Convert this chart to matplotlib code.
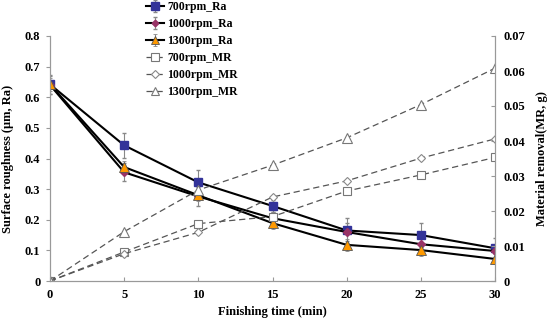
import matplotlib
matplotlib.use("Agg")
import matplotlib.pyplot as plt
from matplotlib.ticker import FuncFormatter

time = [0, 5, 10, 15, 20, 25, 30]
ra_700 = [0.642, 0.443, 0.322, 0.245, 0.165, 0.150, 0.107]
ra_1000 = [0.640, 0.355, 0.276, 0.205, 0.160, 0.120, 0.098]
ra_1300 = [0.642, 0.372, 0.280, 0.189, 0.118, 0.101, 0.072]
err_700 = [0.030, 0.040, 0.040, 0.020, 0.040, 0.040, 0.035]
err_1000 = [0.030, 0.030, 0.030, 0.020, 0.030, 0.020, 0.020]
err_1300 = [0.020, 0.020, 0.020, 0.020, 0.020, 0.020, 0.015]
mr_700 = [0.0, 0.0083, 0.0164, 0.0184, 0.0257, 0.0303, 0.0353]
mr_1000 = [0.0, 0.0078, 0.0139, 0.0240, 0.0286, 0.0351, 0.0406]
mr_1300 = [0.0, 0.0141, 0.0260, 0.0331, 0.0409, 0.0504, 0.0608]

plt.rcParams['font.family'] = ['Liberation Serif', 'DejaVu Serif']
plt.rcParams['font.weight'] = 'bold'

fig = plt.figure(figsize=(5.5, 3.2), dpi=100)
ax = fig.add_axes([50/550, 1-281/320, 445/550, 245/320])
ax2 = ax.twinx()

spine_c = '#999999'
ecol = '#888888'
h1 = ax.errorbar(time, ra_700, yerr=err_700, color='black', lw=1.5, marker='s', ms=6,
                 mfc='#333399', mec='#333399', ecolor=ecol, elinewidth=0.8, capsize=1.5,
                 label='700rpm_Ra')
h2 = ax.errorbar(time, ra_1000, yerr=err_1000, color='black', lw=1.5, marker='D', ms=4,
                 mfc='#993366', mec='#993366', ecolor=ecol, elinewidth=0.8, capsize=1.5,
                 label='1000rpm_Ra')
h3 = ax.errorbar(time, ra_1300, yerr=err_1300, color='black', lw=1.5, marker='^', ms=6.5,
                 mfc='#FF9900', mec='#555555', mew=0.6, ecolor=ecol, elinewidth=0.8, capsize=1.5,
                 label='1300rpm_Ra')

dash_c = '#555555'
m1, = ax2.plot(time, mr_700, ls=(0, (5, 3)), color=dash_c, lw=0.9, marker='s', ms=6,
               mfc='white', mec='#777777', mew=0.8, label='700rpm_MR')
m2, = ax2.plot(time, mr_1000, ls=(0, (5, 3)), color=dash_c, lw=0.9, marker='D', ms=4.5,
               mfc='white', mec='#888888', mew=0.8, label='1000rpm_MR')
m3, = ax2.plot(time, mr_1300, ls=(0, (5, 3)), color=dash_c, lw=0.9, marker='^', ms=6.5,
               mfc='white', mec='#777777', mew=0.8, label='1300rpm_MR')

ax.set_xlim(0, 30)
ax.set_ylim(0, 0.8)
ax2.set_ylim(0, 0.07)
ax.set_xticks(time)
ax.set_yticks([0, 0.1, 0.2, 0.3, 0.4, 0.5, 0.6, 0.7, 0.8])
ax2.set_yticks([0, 0.01, 0.02, 0.03, 0.04, 0.05, 0.06, 0.07])
fmt = FuncFormatter(lambda v, p: '0' if abs(v) < 1e-12 else ('%g' % round(v, 4)))
ax.yaxis.set_major_formatter(fmt)
ax2.yaxis.set_major_formatter(fmt)

for a in (ax, ax2):
    a.spines['top'].set_visible(False)
    for s in ('left', 'right', 'bottom'):
        a.spines[s].set_color(spine_c)
        a.spines[s].set_linewidth(0.8)
    a.tick_params(colors=spine_c, labelcolor='black', labelsize=9, width=0.8, length=3)
ax.tick_params(axis='x', direction='in', pad=6)
ax.tick_params(axis='y', direction='out', pad=4)
ax2.tick_params(axis='y', direction='in', pad=6)
for lbl in ax.get_xticklabels() + ax.get_yticklabels() + ax2.get_yticklabels():
    lbl.set_fontweight('bold')

ax.set_xlabel('Finishing time (min)', fontsize=9, fontweight='bold', labelpad=3)
ax.set_ylabel('Surface roughness (μm, Ra)', fontsize=9, fontweight='bold', labelpad=8)
ax2.set_ylabel('Material removal(MR, g)', fontsize=9, fontweight='bold', labelpad=8)

handles = [h1, h2, h3, m1, m2, m3]
labels = [h.get_label() for h in handles]
leg = fig.legend(handles, labels, loc='upper left', bbox_to_anchor=(145/550, 1.0),
                 frameon=False, fontsize=8.5, handlelength=1.5, handletextpad=0.3,
                 labelspacing=0.42, borderaxespad=0.0, borderpad=0.1, markerscale=0.85)
for t in leg.get_texts():
    t.set_fontweight('bold')

fig.savefig('out.png', dpi=100)
